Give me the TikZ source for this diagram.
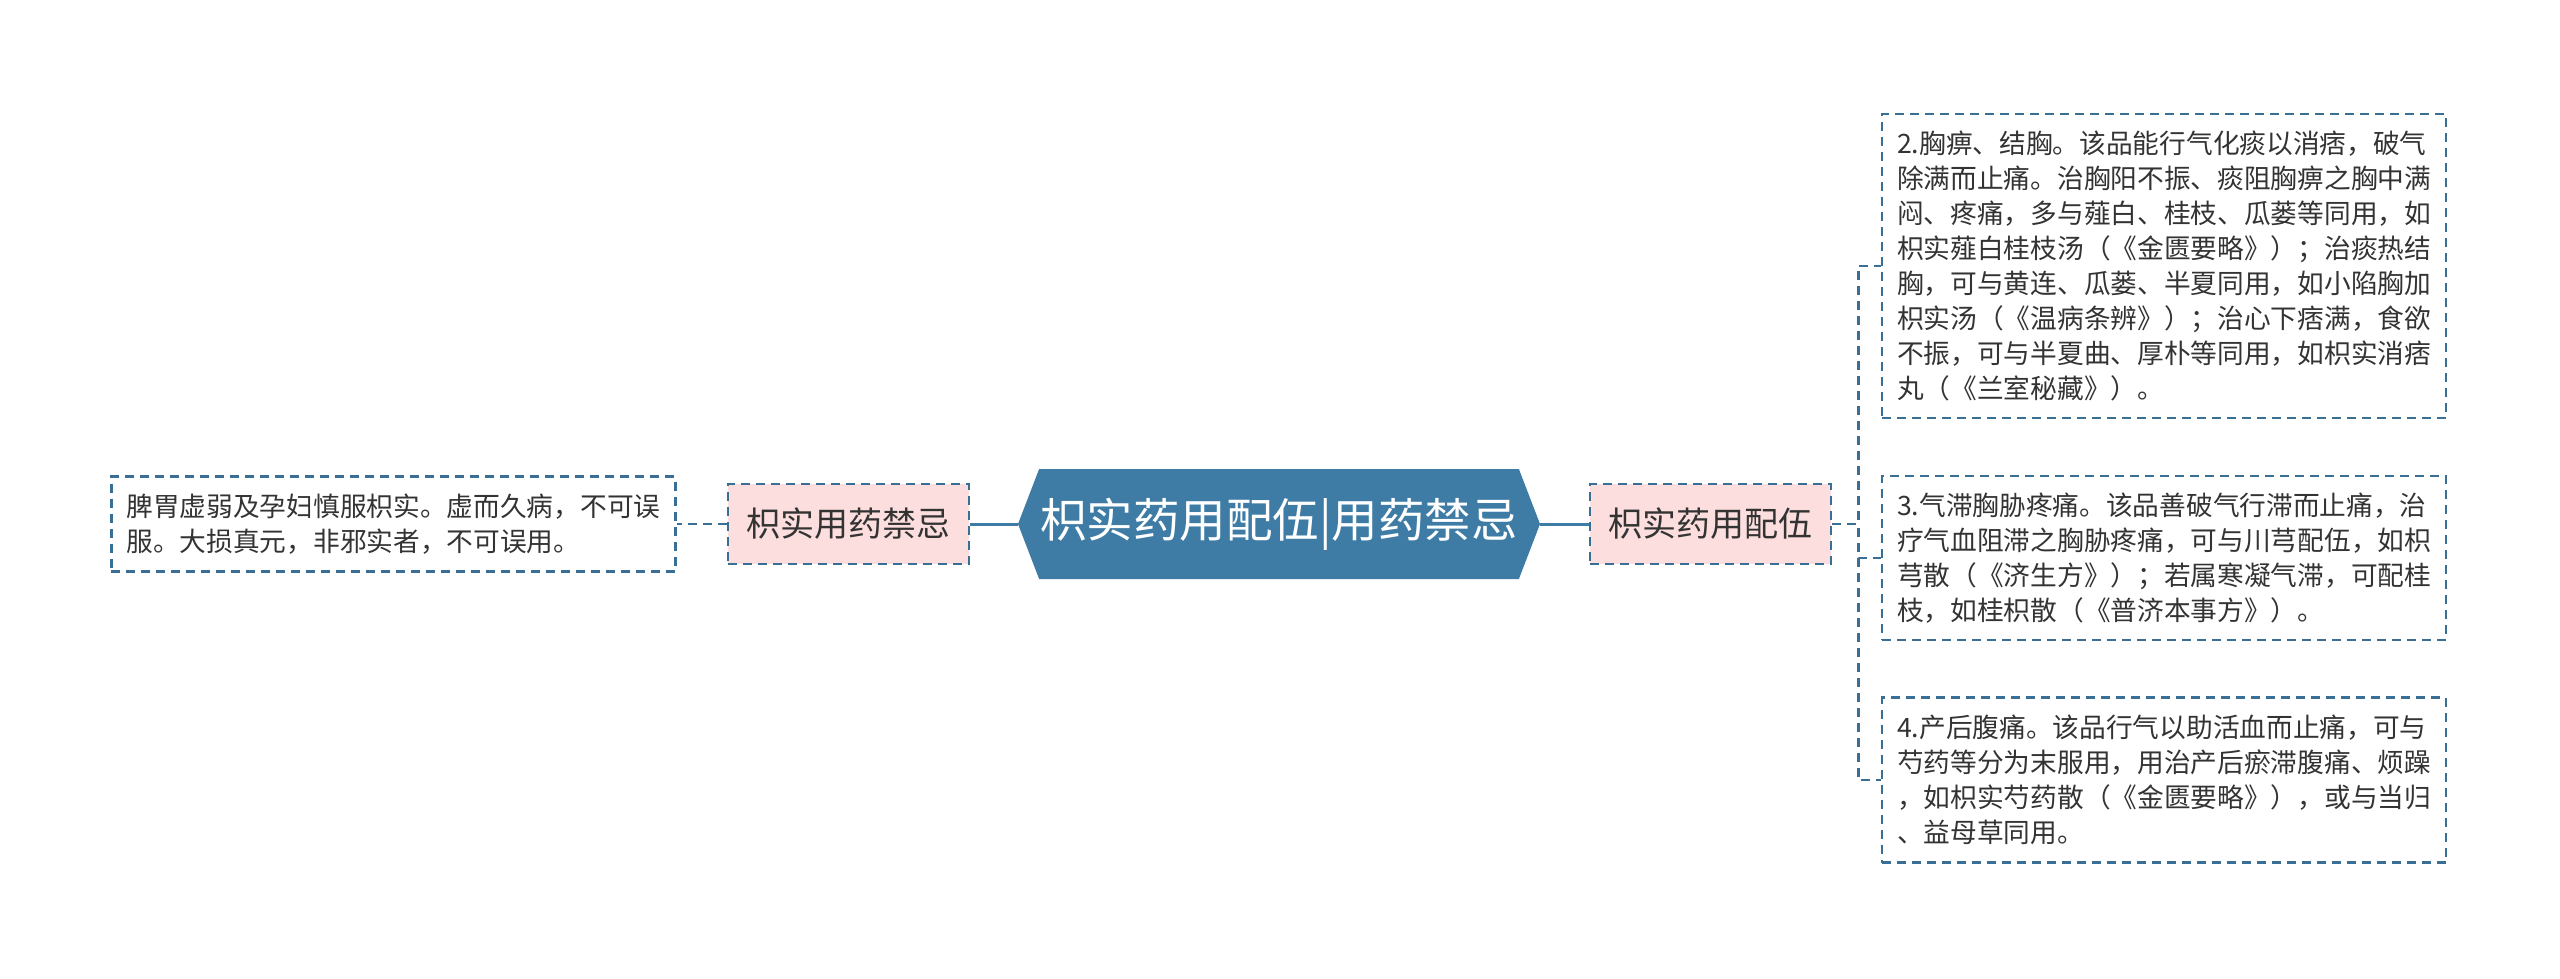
\documentclass[tikz,border=0pt]{standalone}
\usepackage{fontspec}
\setmainfont{Noto Sans CJK SC}
\usetikzlibrary{positioning,shapes.symbols}

\definecolor{rootblue}{HTML}{3E7CA6}
\definecolor{linkblue}{HTML}{3A6F95}
\definecolor{tagpink}{HTML}{FBDEDD}
\definecolor{leafgray}{HTML}{333333}

\tikzset{
  dashbox/.style={draw=linkblue, line width=2.2pt, dash pattern=on 9pt off 6pt},
  rootnode/.style={signal, signal to=west and east, signal pointer angle=138,
    fill=rootblue, text=white, minimum width=522pt, minimum height=110pt,
    inner sep=0pt, font=\fontsize{46.5}{50}\selectfont},
  tagnode/.style={dashbox, fill=tagpink, text=leafgray, minimum width=241pt,
    minimum height=80pt, inner sep=0pt, font=\fontsize{34}{40}\selectfont},
  leafnode/.style={dashbox, text=leafgray, align=left, text width=534pt,
    inner xsep=15pt, inner ysep=0pt, font=\fontsize{26.7}{35}\selectfont},
  solidlink/.style={rootblue, line width=3pt},
  dashlink/.style={linkblue, line width=2.2pt, dash pattern=on 9pt off 6pt},
}

\begin{document}
\begin{tikzpicture}[x=1pt, y=-1pt]
  \useasboundingbox (0,0) rectangle (2560,979);

  % centre and first level
  \node[rootnode] (root) at (1279,524) {枳实药用配伍|用药禁忌};
  \node[tagnode, right=49pt of root] (pair) {枳实药用配伍};
  \node[tagnode, left=48pt of root] (ban) {枳实用药禁忌};

  % leaves
  \node[leafnode, minimum height=95pt, left=50pt of ban] (banleaf)
    {脾胃虚弱及孕妇慎服枳实。虚而久病，不可误\\
     服。大损真元，非邪实者，不可误用。};

  \node[leafnode, minimum height=304pt, anchor=west] (chest) at (1881,266)
    {2.胸痹、结胸。该品能行气化痰以消痞，破气\\
     除满而止痛。治胸阳不振、痰阻胸痹之胸中满\\
     闷、疼痛，多与薤白、桂枝、瓜蒌等同用，如\\
     枳实薤白桂枝汤（《金匮要略》）；治痰热结\\
     胸，可与黄连、瓜蒌、半夏同用，如小陷胸加\\
     枳实汤（《温病条辨》）；治心下痞满，食欲\\
     不振，可与半夏曲、厚朴等同用，如枳实消痞\\
     丸（《兰室秘藏》）。};

  \node[leafnode, minimum height=164pt, anchor=west] (rib) at (1881,558)
    {3.气滞胸胁疼痛。该品善破气行滞而止痛，治\\
     疗气血阻滞之胸胁疼痛，可与川芎配伍，如枳\\
     芎散（《济生方》）；若属寒凝气滞，可配桂\\
     枝，如桂枳散（《普济本事方》）。};

  \node[leafnode, minimum height=165pt, anchor=west] (belly) at (1881,780)
    {4.产后腹痛。该品行气以助活血而止痛，可与\\
     芍药等分为末服用，用治产后瘀滞腹痛、烦躁\\
     ，如枳实芍药散（《金匮要略》），或与当归\\
     、益母草同用。};

  % links
  \draw[solidlink] (root.east) -- (pair.west);
  \draw[solidlink] (root.west) -- (ban.east);
  \draw[dashlink] (ban.west) -- (banleaf.east);
  \foreach \leaf in {chest,rib,belly}
    \draw[dashlink] (pair.east) -- ++(26,0) |- (\leaf.west);
\end{tikzpicture}
\end{document}
